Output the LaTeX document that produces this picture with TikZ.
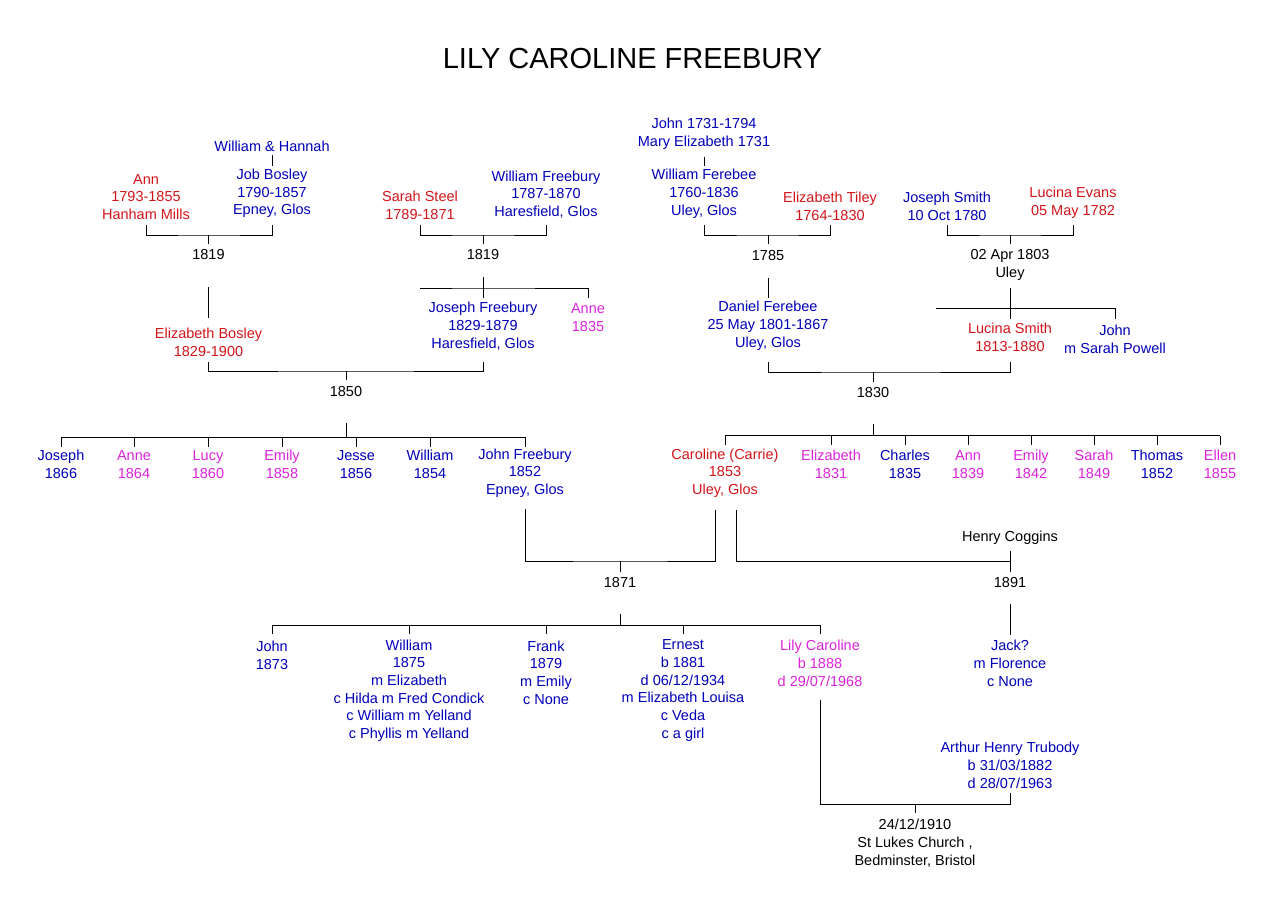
\documentclass[tikz,border=0pt]{standalone}
\usepackage{fontspec}
\setmainfont{Liberation Sans}
\usetikzlibrary{calc}
\definecolor{famblue}{RGB}{0,0,185}
\definecolor{famred}{RGB}{210,20,25}
\definecolor{fammag}{RGB}{220,35,220}
\tikzset{
  person/.style={align=center,inner sep=0pt,font=\fontsize{14.5}{17.7}\selectfont},
  male/.style={person,text=famblue},
  female/.style={person,text=famred},
  girl/.style={person,text=fammag},
  wed/.style={person,text=black}
}
\begin{document}
\begin{tikzpicture}[x=1pt,y=-1pt,line width=1pt]
   \useasboundingbox (0,0) rectangle (1283,918);
   \node[font=\fontsize{29}{32}\selectfont] (title) at (632.5,59) {LILY CAROLINE FREEBURY};

   \node[male] (wh) at (272,146) {William \& Hannah};
   \node[male] (job) at (272,193.5) {Job Bosley\\1790-1857\\Epney, Glos};
   \node[female] (ann) at (146,197) {Ann\\1793-1855\\Hanham Mills};
   \coordinate (jA) at (208.5,235);
   \node[wed] (m1819a) at (208.5,255) {1819};
   \node[female] (elizb) at (208.5,342) {Elizabeth Bosley\\1829-1900};
   \draw ($(wh)+(0,9)$) -- ($(job)+(0,-27.5)$);
   \draw ($(ann|-jA)+(0,-10)$) |- (jA) -| ($(job|-jA)+(0,-10)$);
   \draw (jA) -- ($(m1819a)+(0,-11)$);
   \draw ($(m1819a)+(0,32)$) -- ($(elizb)+(0,-24)$);

   \node[female] (sarah) at (420,205) {Sarah Steel\\1789-1871};
   \node[male] (willf) at (546,194.5) {William Freebury\\1787-1870\\Haresfield, Glos};
   \coordinate (jB) at (483,235);
   \node[wed] (m1819b) at (483,255) {1819};
   \coordinate (sB) at (483,288);
   \node[male] (josephf) at (483,326) {Joseph Freebury\\1829-1879\\Haresfield, Glos};
   \node[girl] (anne35) at (588,317.5) {Anne\\1835};
   \draw ($(sarah|-jB)+(0,-10)$) |- (jB) -| ($(willf|-jB)+(0,-10)$);
   \draw (jB) -- ($(m1819b)+(0,-11)$);
   \draw ($(m1819b)+(0,22)$) -- ($(josephf)+(0,-28)$);
   \draw ($(sB)+(-63,0)$) -- (sB) -| ($(anne35)+(0,-19.5)$);

   \coordinate (j1850) at (346,371);
   \node[wed] (m1850) at (346,392) {1850};
   \coordinate (c1850) at (346,437);
   \draw ($(elizb|-j1850)+(0,-9)$) |- (j1850) -| ($(josephf|-j1850)+(0,-9)$);
   \draw (j1850) -- ($(m1850)+(0,-12)$);
   \draw ($(m1850)+(0,31)$) -- (c1850);
   \foreach \n/\x/\s/\t in {joseph/61/male/{Joseph\\1866},anne64/134/girl/{Anne\\1864},
      lucy/208/girl/{Lucy\\1860},emily58/282/girl/{Emily\\1858},jesse/356/male/{Jesse\\1856},
      william54/430/male/{William\\1854}}
      \node[\s] (\n) at (\x,464.5) {\t};
   \node[male] (johnf) at (525,473) {John Freebury\\1852\\Epney, Glos};
   \draw (joseph|-c1850) -- (johnf|-c1850);
   \foreach \n in {joseph,anne64,lucy,emily58,jesse,william54,johnf}
      \draw (\n|-c1850) -- ++(0,10);

   \node[male] (johnm) at (704,134) {John 1731-1794\\Mary Elizabeth 1731};
   \node[male] (willfe) at (704,193.7) {William Ferebee\\1760-1836\\Uley, Glos};
   \node[female] (tiley) at (830,206) {Elizabeth Tiley\\1764-1830};
   \coordinate (j1785) at (768,235);
   \node[wed] (m1785) at (768,255.7) {1785};
   \node[male] (daniel) at (768,325.7) {Daniel Ferebee\\25 May 1801-1867\\Uley, Glos};
   \draw ($(johnm)+(0,23)$) -- ($(willfe)+(0,-28)$);
   \draw ($(willfe|-j1785)+(0,-10)$) |- (j1785) -| ($(tiley|-j1785)+(0,-10)$);
   \draw (j1785) -- ($(m1785)+(0,-11.5)$);
   \draw ($(m1785)+(0,22)$) -- ($(daniel)+(0,-28)$);

   \node[male] (josephs) at (947,206) {Joseph Smith\\10 Oct 1780};
   \node[female] (evans) at (1073,203) {Lucina Evans\\05 May 1782};
   \coordinate (j1803) at (1010,235);
   \node[wed] (m1803) at (1010,264.7) {02 Apr 1803\\Uley};
   \coordinate (s1803) at (1010,308.7);
   \node[female] (lucinas) at (1010,337.5) {Lucina Smith\\1813-1880};
   \node[male] (johns) at (1115,339) {John\\m Sarah Powell};
   \draw ($(josephs|-j1803)+(0,-10)$) |- (j1803) -| ($(evans|-j1803)+(0,-10)$);
   \draw (j1803) -- ++(0,9);
   \draw ($(m1803)+(0,23)$) -- ($(lucinas)+(0,-19)$);
   \draw ($(s1803)+(-74,0)$) -- (s1803) -| ($(johns)+(0,-20.5)$);

   \coordinate (j1830) at (873,372);
   \node[wed] (m1830) at (873,392.7) {1830};
   \coordinate (c1830) at (873,435.5);
   \draw ($(daniel|-j1830)+(0,-10)$) |- (j1830) -| ($(lucinas|-j1830)+(0,-10)$);
   \draw (j1830) -- ++(0,9.7);
   \draw ($(m1830)+(0,31.3)$) -- (c1830);
   \node[female] (caroline) at (725,473) {Caroline (Carrie)\\1853\\Uley, Glos};
   \foreach \n/\x/\s/\t in {elizabeth/831/girl/{Elizabeth\\1831},charles/905/male/{Charles\\1835},
      ann39/968/girl/{Ann\\1839},emily42/1031/girl/{Emily\\1842},sarah49/1094/girl/{Sarah\\1849},
      thomas/1157/male/{Thomas\\1852},ellen/1220/girl/{Ellen\\1855}}
      \node[\s] (\n) at (\x,464.5) {\t};
   \draw (caroline|-c1830) -- (ellen|-c1830);
   \foreach \n in {caroline,elizabeth,charles,ann39,emily42,sarah49,thomas,ellen}
      \draw (\n|-c1830) -- ++(0,9);

   \coordinate (j1871) at (620,561);
   \node[wed] (m1871) at (620,582.7) {1871};
   \draw ($(johnf|-j1871)+(0,-52)$) |- (j1871) -| ($(caroline|-j1871)+(-10,-51)$);
   \draw (j1871) -- ++(0,10.7);
   \node[wed] (henry) at (1010,537.7) {Henry Coggins};
   \coordinate (j1891) at (1010,561);
   \node[wed] (m1891) at (1010,583) {1891};
   \draw ($(caroline|-j1891)+(11.5,-51)$) |- (j1891);
   \draw ($(henry)+(0,13.3)$) -- ($(j1891)+(0,10.7)$);
   \node[male] (jack) at (1010,663.5) {Jack?\\m Florence\\c None};
   \draw ($(m1891)+(0,21)$) -- ($(jack)+(0,-29)$);

   \coordinate (c1871) at (620,625.3);
   \draw ($(m1871)+(0,31.3)$) -- (c1871);
   \node[male] (john73) at (272,655) {John\\1873};
   \node[male] (william75) at (409,690.5) {William\\1875\\m Elizabeth\\c Hilda m Fred Condick\\c William m Yelland\\c Phyllis m Yelland};
   \node[male] (frank) at (546,672.5) {Frank\\1879\\m Emily\\c None};
   \node[male] (ernest) at (683,690.5) {Ernest\\b 1881\\d 06/12/1934\\m Elizabeth Louisa\\c Veda\\c a girl};
   \node[girl] (lily) at (820,663.5) {Lily Caroline\\b 1888\\d 29/07/1968};
   \draw (john73|-c1871) -- (lily|-c1871);
   \foreach \n in {john73,william75,frank,ernest,lily}
      \draw (\n|-c1871) -- ++(0,9);

   \coordinate (j1910) at (915,804.3);
   \node[male] (arthur) at (1010,765.5) {Arthur Henry Trubody\\b 31/03/1882\\d 28/07/1963};
   \node[wed] (m1910) at (915,843) {24/12/1910\\St Lukes Church ,\\Bedminster, Bristol};
   \draw ($(lily)+(0,36)$) |- (j1910) -| ($(arthur|-j1910)+(0,-11)$);
   \draw (j1910) -- ++(0,9);
\end{tikzpicture}
\end{document}
